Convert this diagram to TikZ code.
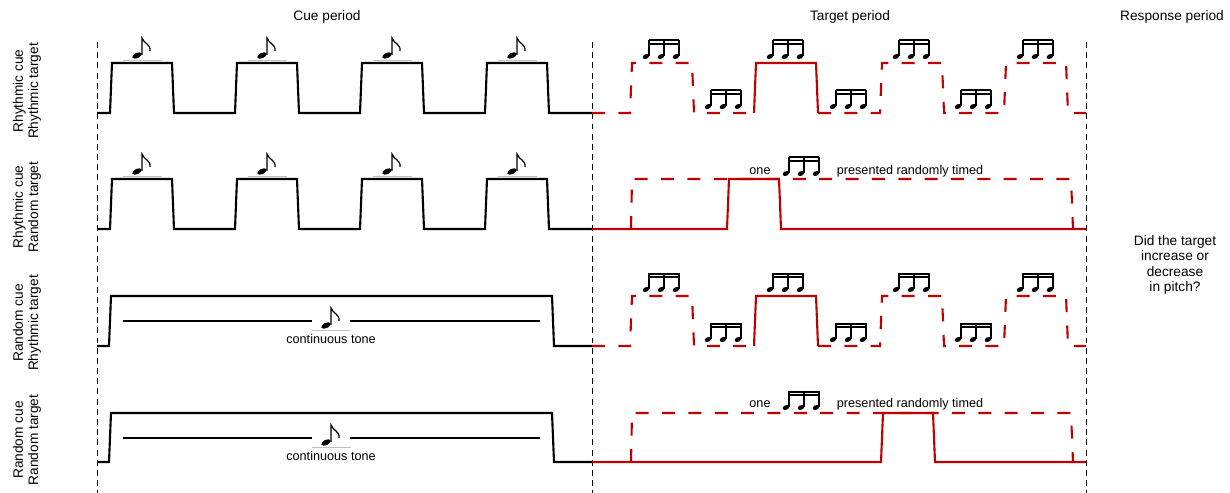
\documentclass[tikz,border=0pt]{standalone}
\usepackage{fontspec}
\setmainfont{Liberation Sans}
\usepackage{tikz}
\usetikzlibrary{arrows,positioning}

\definecolor{tred}{RGB}{192,0,0}

% one quaver sitting on a pulse: #1 = centre x, #2 = level
\newcommand{\eighthnote}[2]{
	\draw[black!25,line width=0.4pt] (#1-19,#2-3) -- (#1+20,#2-3);
	\fill (#1-5,#2-7.5) ellipse [x radius=2.9pt, y radius=1.5pt, rotate=25];
	\draw[line width=0.7pt] (#1,#2-8) -- (#1,#2-25) .. controls (#1+2,#2-19) and (#1+9,#2-19) .. (#1+8,#2-12);
}
% three beamed semiquavers: #1 = centre x, #2 = level
\newcommand{\sixteenths}[2]{
	\foreach \s in {-12,3,18} {
		\fill (#1+\s-3,#2-6.5) ellipse [x radius=2pt, y radius=1.3pt, rotate=25];
		\draw[line width=0.6pt] (#1+\s,#2-7) -- (#1+\s,#2-23);
	}
	\fill (#1-12.3,#2-23.5) rectangle (#1+18.3,#2-21.5);
	\fill (#1-12.3,#2-20) rectangle (#1+18.3,#2-18.3);
}

\begin{document}
\begin{tikzpicture}[x=0.02cm,y=-0.02cm,
	sig/.style={line width=1.2pt},
	tone/.style={line width=0.9pt},
	tgt/.style={line width=1.2pt,draw=tred},
	tgtdash/.style={tgt,dash pattern=on 7.4pt off 7.6pt},
	divider/.style={line width=0.5pt,dash pattern=on 3.4pt off 2.4pt},
	head/.style={font=\fontsize{7.8}{8.6}\selectfont,align=center},
	lbl/.style={font=\fontsize{7.2}{8.6}\selectfont,inner sep=1pt}]
	\useasboundingbox (0,0) rectangle (1230,493);

	% periods
	\node (cue) [head] at (327,17) {Cue period};
	\node (target) [head] at (850,17) {Target period};
	\node (response) [head] at (1172,17) {Response period};
	\foreach \x in {97,592,1086}
		\draw[divider] (\x,42) -- (\x,493);

	% conditions
	\node (rowa) [head,rotate=90] at (27,91) {Rhythmic cue\\Rhythmic target};
	\node (rowb) [head,rotate=90] at (27,207) {Rhythmic cue\\Random target};
	\node (rowc) [head,rotate=90] at (27,323) {Random cue\\Rhythmic target};
	\node (rowd) [head,rotate=90] at (27,440) {Random cue\\Random target};

	% rhythmic cue
	\foreach \hi/\lo in {63/113,179/229} {
		\draw[sig] (97,\lo) foreach \p in {111,236,361,486} { -- (\p-1,\lo) -- (\p+1,\hi) -- (\p+61,\hi) -- (\p+63,\lo) } -- (592,\lo);
		\foreach \p in {111,236,361,486}
			\eighthnote{\p+31}{\hi};
	}

	% random cue
	\foreach \hi/\lo/\t in {296/346/321,413/462/438} {
		\draw[sig] (97,\lo) -- (109,\lo) -- (111,\hi) -- (552,\hi) -- (554,\lo) -- (592,\lo);
		\draw[tone] (123,\t) -- (312,\t);
		\draw[tone] (350,\t) -- (540,\t);
		\eighthnote{331}{\t+12};
	}
	\node (tonea) [lbl] at (331,339) {continuous tone};
	\node (toneb) [lbl] at (331,456) {continuous tone};

	% rhythmic target
	\foreach \hi/\lo in {63/113,296/346} {
		\draw[tgtdash] (592,\lo) -- (630,\lo) -- (632,\hi) -- (692,\hi) -- (694,\lo) -- (754,\lo);
		\draw[tgt] (754,\lo) -- (756,\hi) -- (816,\hi) -- (818,\lo);
		\draw[tgtdash] (818,\lo) -- (880,\lo) -- (882,\hi) -- (942,\hi) -- (944,\lo) -- (1004,\lo) -- (1006,\hi) -- (1066,\hi) -- (1068,\lo) -- (1086,\lo);
		\foreach \c in {661,785,911,1035}
			\sixteenths{\c}{\hi};
		\foreach \c in {723,848,973}
			\sixteenths{\c}{\lo};
	}

	% random target
	\foreach \hi/\lo/\p in {179/229/728,413/462/882} {
		\draw[tgt] (592,\lo) -- (\p-1,\lo) -- (\p+1,\hi) -- (\p+51,\hi) -- (\p+53,\lo) -- (1086,\lo);
		\draw[tgtdash] (631,\lo) -- (632,\hi) -- (1071,\hi) -- (1073,\lo);
		\sixteenths{801}{\hi+1};
	}
	\node (onea) [lbl] at (760,171) {one};
	\node (randa) [lbl] at (910,171) {presented randomly timed};
	\node (oneb) [lbl] at (760,404) {one};
	\node (randb) [lbl] at (910,404) {presented randomly timed};

	% response
	\node (question) [head] at (1175,265) {Did the target\\increase or\\decrease\\in pitch?};
\end{tikzpicture}
\end{document}
